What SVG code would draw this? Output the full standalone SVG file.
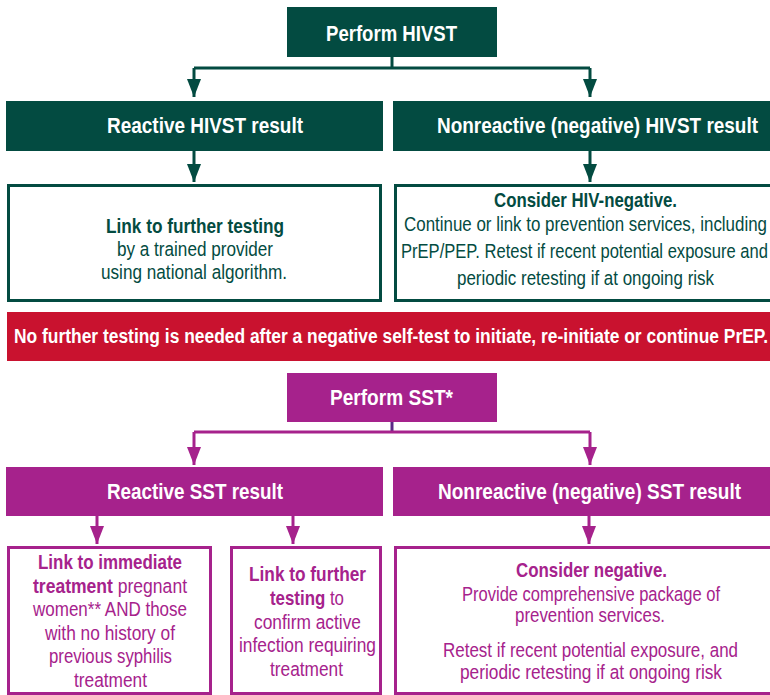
<svg xmlns="http://www.w3.org/2000/svg" width="770" height="695" viewBox="0 0 770 695">
<style>
text{font-family:"Liberation Sans Narrow","Liberation Sans",Arial,sans-serif;text-anchor:middle}
.hd{font-weight:bold;font-size:22.5px;fill:#fff}
.g{fill:#034b41}
.p{fill:#a6228c}
.bx{stroke-width:3;fill:#fff}
.bg{stroke:#034b41}
.bp{stroke:#a6228c}
.t{font-size:20.5px}
.b{font-weight:bold}
.ln{fill:none;stroke-width:3}
.bn{font-size:19.5px}
</style>
<defs>
<marker id="ag" markerUnits="userSpaceOnUse" markerWidth="18" markerHeight="14" refX="18" refY="7" orient="auto"><path d="M0,0 L18,7 L0,14 z" fill="#034b41"/></marker>
<marker id="ap" markerUnits="userSpaceOnUse" markerWidth="18" markerHeight="14" refX="18" refY="7" orient="auto"><path d="M0,0 L18,7 L0,14 z" fill="#a6228c"/></marker>
</defs>
<rect width="770" height="695" fill="#fff"/>

<g id="connectors">
<path class="ln" stroke="#034b41" d="M392,57 V68"/>
<path class="ln" stroke="#034b41" d="M194,68 H590"/>
<path class="ln" stroke="#034b41" d="M194,68 V97" marker-end="url(#ag)"/>
<path class="ln" stroke="#034b41" d="M590,68 V97" marker-end="url(#ag)"/>
<path class="ln" stroke="#034b41" d="M194,151 V182" marker-end="url(#ag)"/>
<path class="ln" stroke="#034b41" d="M590,151 V182" marker-end="url(#ag)"/>
<path class="ln" stroke="#5a2a86" d="M392,422 V432"/>
<path class="ln" stroke="#a6228c" d="M194,432 H590"/>
<path class="ln" stroke="#a6228c" d="M194,432 V465" marker-end="url(#ap)"/>
<path class="ln" stroke="#a6228c" d="M590,432 V465" marker-end="url(#ap)"/>
<path class="ln" stroke="#a6228c" d="M97,516 V544" marker-end="url(#ap)"/>
<path class="ln" stroke="#a6228c" d="M293,516 V544" marker-end="url(#ap)"/>
<path class="ln" stroke="#a6228c" d="M589,516 V544" marker-end="url(#ap)"/>
</g>

<g id="perform-hivst">
<rect class="g" x="287" y="7" width="210" height="50"/>
<text class="hd" x="391.5" y="41" textLength="131" lengthAdjust="spacingAndGlyphs">Perform HIVST</text>
</g>
<g id="reactive-hivst">
<rect class="g" x="6" y="101" width="377" height="50"/>
<text class="hd" x="205" y="133" textLength="196" lengthAdjust="spacingAndGlyphs">Reactive HIVST result</text>
</g>
<g id="nonreactive-hivst">
<rect class="g" x="393" y="101" width="390" height="50"/>
<text class="hd" x="597.5" y="133" textLength="321" lengthAdjust="spacingAndGlyphs">Nonreactive (negative) HIVST result</text>
</g>
<g id="link-further-testing">
<rect class="bx bg" x="8.5" y="185.5" width="372" height="115"/>
<text class="t g b" x="195" y="233" textLength="178" lengthAdjust="spacingAndGlyphs">Link to further testing</text>
<text class="t g" x="195" y="256" textLength="156" lengthAdjust="spacingAndGlyphs">by a trained provider</text>
<text class="t g" x="194" y="279" textLength="186" lengthAdjust="spacingAndGlyphs">using national algorithm.</text>
</g>
<g id="consider-hiv-negative">
<rect class="bx bg" x="395.5" y="185.5" width="390" height="115"/>
<text class="t g b" x="585.5" y="207" textLength="183" lengthAdjust="spacingAndGlyphs">Consider HIV-negative.</text>
<text class="t g" x="585.5" y="231" textLength="363" lengthAdjust="spacingAndGlyphs">Continue or link to prevention services, including</text>
<text class="t g" x="584.5" y="258" textLength="367" lengthAdjust="spacingAndGlyphs">PrEP/PEP. Retest if recent potential exposure and</text>
<text class="t g" x="585.5" y="285" textLength="257" lengthAdjust="spacingAndGlyphs">periodic retesting if at ongoing risk</text>
</g>
<g id="banner">
<rect x="7" y="312" width="770" height="49" fill="#c9122f"/>
<text class="hd bn" x="391" y="343" textLength="754" lengthAdjust="spacingAndGlyphs">No further testing is needed after a negative self-test to initiate, re-initiate or continue PrEP.</text>
</g>

<g id="perform-sst">
<rect class="p" x="287" y="373" width="210" height="49"/>
<text class="hd" x="391.5" y="405" textLength="123" lengthAdjust="spacingAndGlyphs">Perform SST*</text>
</g>
<g id="reactive-sst">
<rect class="p" x="6" y="467" width="377" height="49"/>
<text class="hd" x="195" y="499" textLength="176" lengthAdjust="spacingAndGlyphs">Reactive SST result</text>
</g>
<g id="nonreactive-sst">
<rect class="p" x="393" y="467" width="390" height="49"/>
<text class="hd" x="589.5" y="499" textLength="303" lengthAdjust="spacingAndGlyphs">Nonreactive (negative) SST result</text>
</g>
<g id="link-immediate-treatment">
<rect class="bx bp" x="8.5" y="547.5" width="202" height="146"/>
<text class="t p b" x="110" y="569" textLength="144" lengthAdjust="spacingAndGlyphs">Link to immediate</text>
<text class="t p" x="110" y="593" textLength="154" lengthAdjust="spacingAndGlyphs"><tspan class="b">treatment</tspan> pregnant</text>
<text class="t p" x="110" y="616" textLength="154" lengthAdjust="spacingAndGlyphs">women** AND those</text>
<text class="t p" x="110" y="640" textLength="130" lengthAdjust="spacingAndGlyphs">with no history of</text>
<text class="t p" x="110.5" y="663" textLength="123" lengthAdjust="spacingAndGlyphs">previous syphilis</text>
<text class="t p" x="110.5" y="687" textLength="73" lengthAdjust="spacingAndGlyphs">treatment</text>
</g>
<g id="link-further-testing-sst">
<rect class="bx bp" x="231.5" y="547.5" width="149" height="146"/>
<text class="t p b" x="307.5" y="581" textLength="117" lengthAdjust="spacingAndGlyphs">Link to further</text>
<text class="t p" x="307" y="605" textLength="74" lengthAdjust="spacingAndGlyphs"><tspan class="b">testing</tspan> to</text>
<text class="t p" x="307.5" y="628.5" textLength="107" lengthAdjust="spacingAndGlyphs">confirm active</text>
<text class="t p" x="307.5" y="652" textLength="137" lengthAdjust="spacingAndGlyphs">infection requiring</text>
<text class="t p" x="306.5" y="676" textLength="73" lengthAdjust="spacingAndGlyphs">treatment</text>
</g>
<g id="consider-negative">
<rect class="bx bp" x="395.5" y="547.5" width="390" height="146"/>
<text class="t p b" x="591.5" y="577" textLength="151" lengthAdjust="spacingAndGlyphs">Consider negative.</text>
<text class="t p" x="591" y="601" textLength="258" lengthAdjust="spacingAndGlyphs">Provide comprehensive package of</text>
<text class="t p" x="590" y="622" textLength="150" lengthAdjust="spacingAndGlyphs">prevention services.</text>
<text class="t p" x="590.5" y="657" textLength="295" lengthAdjust="spacingAndGlyphs">Retest if recent potential exposure, and</text>
<text class="t p" x="591" y="679" textLength="262" lengthAdjust="spacingAndGlyphs">periodic retesting if at ongoing risk</text>
</g>
</svg>
